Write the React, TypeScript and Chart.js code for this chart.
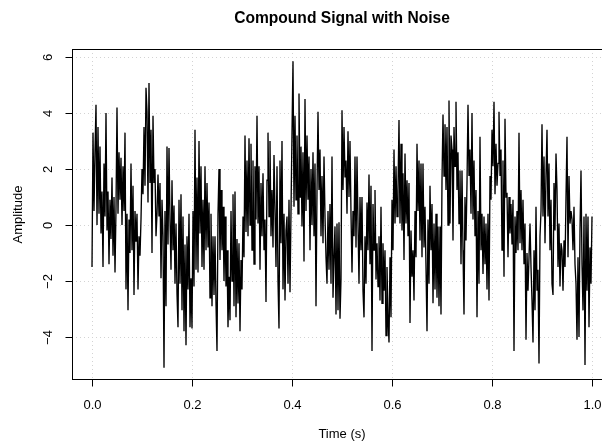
import React, { useEffect, useRef } from "react";
import { Chart, registerables } from "chart.js";

Chart.register(...registerables);

const titleText = "Compound Signal with Noise";
const xAxisTitle = "Time (s)";
const yAxisTitle = "Amplitude";

const xTicks = [0, 0.2, 0.4, 0.6, 0.8, 1.0];
const xTickLabels = ["0.0", "0.2", "0.4", "0.6", "0.8", "1.0"];
const yTicks = [-4, -2, 0, 2, 4, 6];
const yTickLabels = ["\u22124", "\u22122", "0", "2", "4", "6"];

const amplitude: number[] = [
  -1.5, 3.3, 0.5, 2.6, 4.3,
  0.0, 3.5, 0.4, 2.8, -0.3,
  1.2, -1.5, 2.2, 0.3, 4.0,
  -0.2, 1.2, -1.4, 0.9, -0.5,
  1.7, -1.1, 1.0, -1.7, 0.6,
  4.2, 0.4, 2.6, 0.9, 2.4,
  0.0, 2.1, 0.5, 3.3, -2.3,
  0.4, -3.05, 0.2, -1.0, 2.2,
  -0.9, 1.4, -2.5, 0.5, -0.6,
  0.4, -2.3, -0.4, -1.1, 0.2,
  2.0, 1.1, 3.5, 1.4, 4.9,
  4.05, 0.8, 5.07, 1.5, 3.4,
  -1.0, 3.9, 1.5, 2.0, -0.4,
  0.4, 1.8, 0.3, 1.5, -1.9,
  0.9, -0.4, -5.1, 0.5, -2.9,
  2.8, -0.7, 2.75, 0.2, -1.6,
  1.6, -0.9, 0.7, -2.1, 0.05,
  -2.45, -3.65, 0.9, -2.1, 1.1,
  -3.05, 0.3, -3.8, -0.7, -4.3,
  -0.4, -2.3, 0.4, -3.65, -1.9,
  -3.7, 0.5, -2.2, 3.4, -1.6,
  1.7, -1.7, 3.0, -0.3, 2.1,
  -1.5, 0.9, -1.6, 2.1, -0.9,
  1.5, -0.8, 0.8, -2.6, 0.4,
  -2.9, -0.4, -2.5, -0.4, -2.8,
  -4.5, 0.4, 2.0, -1.25, 1.25,
  -0.9, 0.65, -2.0, 0.3, -2.2,
  -0.9, -3.65, -1.85, -3.4, 0.5,
  -2.0, 1.1, -2.9, 1.2, -3.3,
  -0.5, -2.8, -0.65, -3.8, -1.25,
  -2.3, 0.3, -1.15, 3.2, -0.25,
  2.3, -0.4, 3.1, 0.0, 2.9,
  -0.9, 2.3, -1.4, 2.1, 0.2,
  3.9, 0.05, 2.1, -1.6, 1.5,
  -0.4, 1.85, -0.9, 0.2, -2.75,
  1.6, 3.3, 0.3, 3.0, -0.4,
  1.25, -0.8, 2.5, 0.5, -1.5,
  2.1, -2.0, -3.7, 2.3, -0.65,
  3.0, -2.3, 0.4, -2.7, -0.2,
  0.3, -2.1, 0.9, -2.4, 0.5,
  3.3, 5.85, 0.65, 3.9, 0.9,
  3.2, 0.4, 4.7, 1.0, 2.8,
  -0.05, 2.6, -1.3, 4.5, 0.5,
  3.2, 0.9, 2.45, -0.9, 2.0,
  0.0, 2.6, -0.4, 2.2, -2.9,
  1.25, 4.05, 1.25, 2.7, -0.4,
  1.75, -0.65, 2.45, 0.3, -1.15,
  -2.1, 0.5, -1.6, 0.75, -2.1,
  2.45, -2.6, -1.15, -0.05, -3.2,
  0.05, -3.05, 0.1, -3.35, -1.95,
  4.1, 1.25, 3.5, 1.7, 2.3,
  0.4, 3.35, 1.0, 3.0, 0.4,
  -1.7, 0.5, -0.4, 2.45, -0.8,
  2.45, 0.05, -2.1, 1.0, -0.9,
  1.0, -2.35, -3.3, -0.4, -2.1,
  0.8, -0.9, 1.8, -1.4, 1.4,
  -4.5, 0.75, -0.9, 1.25, -1.95,
  -0.65, -2.2, -0.4, -2.7, 0.65,
  -2.8, -0.65, -2.35, -0.9, -3.95,
  -1.5, -3.3, -4.2, -1.15, -3.3,
  0.9, -0.9, 2.7, 0.05, 2.1,
  0.3, 1.25, 3.75, 0.05, 2.9,
  -0.2, 1.85, -1.25, 2.55, 0.05,
  1.6, -0.4, 1.5, -3.5, -0.2,
  -1.85, -0.9, -2.7, 0.5, -1.15,
  2.9, 0.5, 2.3, -0.55, 2.2,
  -1.15, 2.2, -0.8, 0.65, -1.5,
  -3.8, 0.2, -2.1, 1.4, -0.9,
  0.75, -2.8, 0.05, -2.3, 0.4,
  -2.6, -0.05, -2.9, -0.05, -3.2,
  1.6, 3.95, 1.75, 3.6, 1.25,
  3.5, 0.0, 4.45, 0.05, 3.2,
  2.7, -0.55, 3.5, 2.1, 4.4,
  1.25, 2.6, 0.05, 1.95, -1.4,
  1.95, -0.9, -3.2, 1.0, -0.55,
  1.5, 4.3, 1.75, 2.7, 0.4,
  4.0, 0.2, 2.3, -0.4, 1.25,
  -3.3, 0.5, -2.1, 3.15, -0.9,
  0.4, -1.75, 0.3, -1.4, 0.05,
  -2.3, 0.4, -2.7, 1.75, 0.9,
  3.4, 2.1, 4.4, 1.1, 2.9,
  1.4, 2.2, 4.05, 1.75, 2.7,
  -0.9, 2.3, -1.85, 3.8, 1.0,
  1.15, -1.15, 1.0, -0.3, 0.75,
  -0.7, 0.9, -4.5, 0.3, -1.0,
  0.5, -0.9, 3.3, -0.65, 1.25,
  -0.9, 0.9, -1.4, 0.05, -4.1,
  -1.0, -2.35, -1.15, 0.05, -1.5,
  -2.7, -4.2, -0.9, -3.05, 0.65,
  -2.35, -1.6, -4.95, -0.4, 0.5,
  3.6, 0.3, 2.45, -0.65, 1.75,
  3.4, 0.3, 2.2, -0.9, 0.9,
  -2.1, -2.5, 1.5, -0.2, 2.55,
  1.25, -1.5, 0.05, -2.2, -0.65,
  -0.9, -2.35, -0.55, -1.5, 1.0,
  3.15, -1.15, 1.75, 0.05, 0.5,
  0.2, -0.9, 0.65, -1.4, -2.1,
  -4.1, -1.15, -4.0, -0.2, 1.95,
  -1.4, -3.05, 0.3, -5.0, 0.4,
  -2.35, 0.3, -3.65, -0.8, -2.1,
  0.3,
];

const sampleCount = amplitude.length;
const timeSeconds: number[] = amplitude.map((_, i) => i / (sampleCount - 1));

const FONT = "Liberation Sans, Arial, Helvetica, sans-serif";

const rAxesPlugin = {
  id: "rAxes",
  beforeDatasetsDraw(chart: any) {
    const { ctx, chartArea, scales } = chart;
    const xs = scales.x;
    const ys = scales.y;
    ctx.save();
    ctx.strokeStyle = "#d3d3d3";
    ctx.lineWidth = 1;
    ctx.setLineDash([1, 3]);
    xTicks.forEach((v) => {
      const px = Math.round(xs.getPixelForValue(v)) + 0.5;
      ctx.beginPath();
      ctx.moveTo(px, chartArea.top);
      ctx.lineTo(px, chartArea.bottom);
      ctx.stroke();
    });
    yTicks.forEach((v) => {
      const py = Math.round(ys.getPixelForValue(v)) + 0.5;
      ctx.beginPath();
      ctx.moveTo(chartArea.left, py);
      ctx.lineTo(chartArea.right, py);
      ctx.stroke();
    });
    ctx.restore();
  },
  afterDraw(chart: any) {
    const { ctx, chartArea, scales } = chart;
    const xs = scales.x;
    const ys = scales.y;
    const L = chartArea.left + 0.5;
    const T = chartArea.top + 0.5;
    const B = chartArea.bottom - 0.5;
    const R = chartArea.right - 0.5;
    ctx.save();
    ctx.setLineDash([]);
    ctx.strokeStyle = "#000";
    ctx.lineWidth = 1;
    ctx.strokeRect(L, T, R - L, B - T);

    ctx.fillStyle = "#000";
    ctx.font = `13px ${FONT}`;
    ctx.textAlign = "center";
    ctx.textBaseline = "middle";
    xTicks.forEach((v, i) => {
      const px = Math.round(xs.getPixelForValue(v)) + 0.5;
      ctx.beginPath();
      ctx.moveTo(px, B);
      ctx.lineTo(px, B + 7);
      ctx.stroke();
      ctx.fillText(xTickLabels[i], px, 405);
    });
    yTicks.forEach((v, i) => {
      const py = Math.round(ys.getPixelForValue(v)) + 0.5;
      ctx.beginPath();
      ctx.moveTo(L, py);
      ctx.lineTo(L - 7, py);
      ctx.stroke();
      ctx.save();
      ctx.translate(48, py);
      ctx.rotate(-Math.PI / 2);
      ctx.fillText(yTickLabels[i], 0, 0);
      ctx.restore();
    });

    const cx = (chartArea.left + chartArea.right) / 2;
    const cy = (chartArea.top + chartArea.bottom) / 2;
    ctx.fillText(xAxisTitle, cx, 434);
    ctx.save();
    ctx.translate(18, cy);
    ctx.rotate(-Math.PI / 2);
    ctx.fillText(yAxisTitle, 0, 0);
    ctx.restore();

    ctx.font = `bold 15.6px ${FONT}`;
    ctx.fillText(titleText, cx, 19);
    ctx.restore();
  },
};

export default function App() {
  const canvasRef = useRef<HTMLCanvasElement | null>(null);

  useEffect(() => {
    const canvas = canvasRef.current;
    if (!canvas) return;
    const chart = new Chart(canvas, {
      type: "line",
      data: {
        datasets: [
          {
            data: timeSeconds.map((t, i) => ({ x: t, y: amplitude[i] })),
            borderColor: "#000000",
            borderWidth: 1.35,
            pointRadius: 0,
            tension: 0,
            fill: false,
          },
        ],
      },
      options: {
        responsive: false,
        animation: false,
        devicePixelRatio: 1,
        layout: { padding: { left: 72, top: 49, right: 8, bottom: 63 } },
        scales: {
          x: { type: "linear", min: -0.04, max: 1.04, display: false },
          y: { type: "linear", min: -5.538, max: 6.288, display: false },
        },
        plugins: {
          legend: { display: false },
          tooltip: { enabled: false },
          title: { display: false },
        },
      },
      plugins: [rAxesPlugin],
    });
    return () => chart.destroy();
  }, []);

  return (
    <div
      style={{
        position: "fixed",
        left: 0,
        top: 0,
        width: 602,
        height: 443,
        overflow: "hidden",
        background: "#fff",
      }}
    >
      <canvas ref={canvasRef} width={620} height={443} style={{ display: "block" }} />
    </div>
  );
}
